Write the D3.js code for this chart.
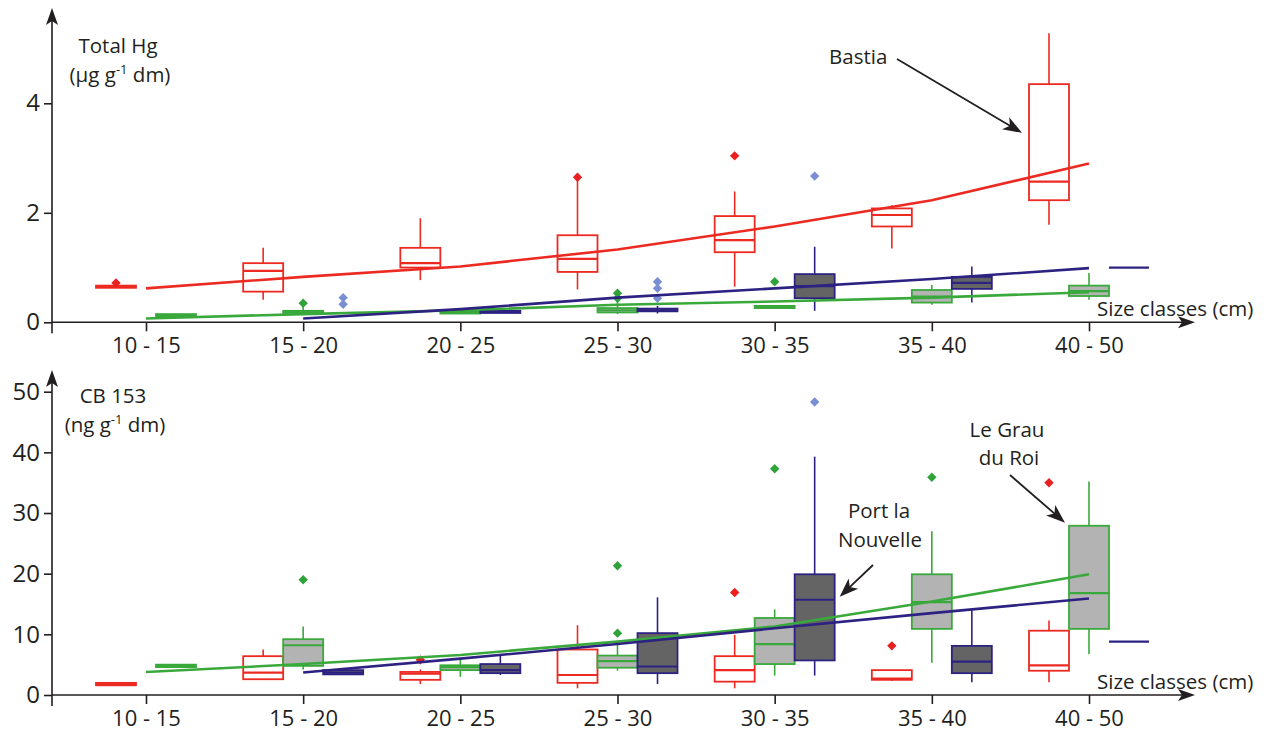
<!DOCTYPE html>
<html>
<head>
<meta charset="utf-8">
<script src="https://cdn.jsdelivr.net/npm/d3@7"></script>
<style>
  body { margin: 0; background: #fff; }
  svg { font-family: "Open Sans", sans-serif; }
  text { fill: #231f20; }
</style>
</head>
<body>
<svg width="1274" height="736"></svg>
<script>
const categories = ["10 - 15", "15 - 20", "20 - 25", "25 - 30", "30 - 35", "35 - 40", "40 - 50"];
const sites = ["Bastia", "Le Grau du Roi", "Port la Nouvelle"];

// box stats: [whisker low, q1, median, q3, whisker high], one per size class
const hgBastia = [[0.63, 0.63, 0.65, 0.67, 0.67], [0.41, 0.56, 0.94, 1.08, 1.36], [0.77, 1.00, 1.08, 1.36, 1.90],
  [0.60, 0.92, 1.16, 1.59, 2.60], [0.65, 1.28, 1.50, 1.94, 2.39], [1.35, 1.75, 1.96, 2.08, 2.14], [1.78, 2.23, 2.57, 4.35, 5.28]];
const hgGrau = [[0.11, 0.11, 0.13, 0.15, 0.15], [0.16, 0.17, 0.19, 0.21, 0.30], [0.15, 0.16, 0.18, 0.20, 0.20],
  [0.15, 0.18, 0.22, 0.26, 0.40], [0.26, 0.26, 0.28, 0.30, 0.30], [0.32, 0.36, 0.47, 0.59, 0.68], [0.41, 0.48, 0.57, 0.67, 0.90]];
const hgPort = [null, null, [0.17, 0.17, 0.19, 0.21, 0.21],
  [0.16, 0.20, 0.22, 0.25, 0.30], [0.21, 0.44, 0.66, 0.88, 1.38], [0.36, 0.61, 0.72, 0.83, 1.02], [1.00, 1.00, 1.00, 1.00, 1.00]];

const hgBastiaOut = [[0.72], [], [], [2.65], [3.04], [], []];
const hgGrauOut = [[], [0.35], [], [0.44, 0.53], [0.74], [], []];
const hgPortOut = [[], [0.33, 0.45], [], [0.44, 0.62, 0.74], [2.67], [], []];

const hgTrendBastia = [0.62, 0.83, 1.02, 1.33, 1.75, 2.23, 2.90];
const hgTrendGrau = [0.07, 0.15, 0.22, 0.32, 0.38, 0.45, 0.55];
const hgTrendPort = [null, 0.07, 0.24, 0.45, 0.62, 0.79, 0.99];

const cbBastia = [[1.6, 1.6, 1.8, 2.0, 2.0], [2.6, 2.6, 3.7, 6.4, 7.5], [1.8, 2.5, 3.5, 3.8, 4.2],
  [1.1, 2.0, 3.3, 7.5, 11.5], [1.1, 2.2, 4.1, 6.4, 9.9], [2.3, 2.5, 2.7, 4.1, 4.1], [2.1, 4.0, 4.9, 10.6, 12.3]];
const cbGrau = [[4.6, 4.6, 4.8, 5.0, 5.0], [4.2, 4.8, 8.2, 9.2, 11.3], [3.0, 4.1, 4.6, 4.9, 5.9],
  [4.0, 4.5, 5.6, 6.5, 8.5], [3.2, 5.1, 8.4, 12.7, 14.1], [5.3, 10.9, 15.3, 19.9, 27.0], [6.7, 10.9, 16.8, 27.9, 35.2]];
const cbPort = [null, [3.4, 3.4, 3.7, 4.1, 4.1], [3.3, 3.6, 4.1, 5.1, 6.6],
  [1.8, 3.6, 4.7, 10.2, 16.1], [3.2, 5.7, 15.7, 19.9, 39.3], [2.1, 3.6, 5.5, 8.1, 14.0], [8.8, 8.8, 8.8, 8.8, 8.8]];

const cbBastiaOut = [[], [], [5.8], [], [16.9], [8.1], [35.0]];
const cbGrauOut = [[], [19.0], [], [10.2, 21.3], [37.3], [35.9], []];
const cbPortOut = [[], [], [], [], [48.3], [], []];

const cbTrendGrau = [3.8, 5.1, 6.6, 8.8, 11.3, 15.4, 19.9];
const cbTrendPort = [null, 3.7, 6.0, 8.4, 11.0, 13.5, 15.9];

const hgTicks = [0, 2, 4];
const cbTicks = [0, 10, 20, 30, 40, 50];

// styles
const stroke = { "Bastia": "#ec2a22", "Le Grau du Roi": "#3aa93c", "Port la Nouvelle": "#2d2282" };
const fill = { "Bastia": "#fff", "Le Grau du Roi": "#b3b3b3", "Port la Nouvelle": "#646464" };
const outColor = { "Bastia": "#e8201f", "Le Grau du Roi": "#2fa33a", "Port la Nouvelle": "#7a8fd3" };
const ink = "#231f20";

let svg = d3.select("svg");

let x = d3.scalePoint().domain(categories).range([146, 1089]);
let yHg = d3.scaleLinear().domain([0, 4]).range([322.3, 103.3]);
let yCb = d3.scaleLinear().domain([0, 50]).range([695, 391.7]);

let panels = [
  { y: yHg, ticks: hgTicks, top: 8,
    boxes: [hgBastia, hgGrau, hgPort], outs: [hgBastiaOut, hgGrauOut, hgPortOut],
    trends: [hgTrendBastia, hgTrendGrau, hgTrendPort],
    title: ["Total Hg", "(µg g", " dm)"], titleX: 118, titleY: 53 },
  { y: yCb, ticks: cbTicks, top: 370,
    boxes: [cbBastia, cbGrau, cbPort], outs: [cbBastiaOut, cbGrauOut, cbPortOut],
    trends: [null, cbTrendGrau, cbTrendPort],
    title: ["CB 153", "(ng g", " dm)"], titleX: 113, titleY: 403 }
];

// sites present in a size class get a slot around the tick
function slotScale(i) {
  let present = sites.filter((s, k) => panels.some(p => p.boxes[k][i] || p.outs[k][i].length));
  return d3.scaleBand().domain(present).range([-60, 60]);
}
let slots = categories.map((c, i) => slotScale(i));
function cx(i, site) {
  let s = slots[i];
  return x(categories[i]) + s(site) + s.bandwidth() / 2;
}

const boxW = 40;
const arrowUp = "M0,0 L-6,17 L0,13 L6,17 Z";
const arrowRight = "M0,0 L-17,-6 L-13,0 L-17,6 Z";

panels.forEach(function(p) {
  let y = p.y, y0 = y(0);
  let g = svg.append("g");

  // boxes
  sites.forEach(function(site, k) {
    p.boxes[k].forEach(function(b, i) {
      if (!b) return;
      let c = cx(i, site);
      if (b[4] > b[0]) {
        g.append("line")
          .attr("x1", c).attr("x2", c)
          .attr("y1", y(b[0])).attr("y2", y(b[4]))
          .attr("stroke", stroke[site]).attr("stroke-width", 1.6);
      }
      if (b[3] > b[1]) {
        g.append("rect")
          .attr("x", c - boxW / 2).attr("width", boxW)
          .attr("y", y(b[3])).attr("height", y(b[1]) - y(b[3]))
          .attr("fill", fill[site])
          .attr("stroke", stroke[site]).attr("stroke-width", 1.8);
      }
      g.append("line")
        .attr("x1", c - boxW / 2).attr("x2", c + boxW / 2)
        .attr("y1", y(b[2])).attr("y2", y(b[2]))
        .attr("stroke", stroke[site]).attr("stroke-width", 2.2);
    });
    // outliers
    p.outs[k].forEach(function(list, i) {
      list.forEach(function(v) {
        g.append("path")
          .attr("d", d3.symbol(d3.symbolSquare, 44)())
          .attr("transform", "translate(" + cx(i, site) + "," + y(v) + ") rotate(45)")
          .attr("fill", outColor[site]);
      });
    });
  });

  // trend lines
  let line = d3.line()
    .defined(d => d != null)
    .x((d, i) => x(categories[i]))
    .y(d => y(d));
  sites.forEach(function(site, k) {
    if (!p.trends[k]) return;
    g.append("path")
      .datum(p.trends[k])
      .attr("fill", "none")
      .attr("stroke", stroke[site])
      .attr("stroke-width", 2.6)
      .attr("d", line);
  });

  // y axis
  let yAxis = d3.axisLeft(y).tickValues(p.ticks).tickSize(8).tickPadding(4).tickFormat(d3.format("d"));
  let ya = svg.append("g").attr("transform", "translate(52,0)").call(yAxis);
  ya.select(".domain").remove();
  ya.selectAll(".tick line").attr("stroke", ink).attr("stroke-width", 1.6);
  ya.selectAll(".tick text").style("font-family", "Open Sans").style("font-size", "24px").attr("fill", ink);
  svg.append("line")
    .attr("x1", 52).attr("x2", 52)
    .attr("y1", p.top + 12).attr("y2", y0 + 11)
    .attr("stroke", ink).attr("stroke-width", 1.6);
  svg.append("path").attr("d", arrowUp).attr("transform", "translate(52," + p.top + ")").attr("fill", ink);

  // x axis
  let xAxis = d3.axisBottom(x).tickSize(9).tickSizeOuter(0).tickPadding(6);
  let xa = svg.append("g").attr("transform", "translate(0," + y0 + ")").call(xAxis);
  xa.select(".domain").remove();
  xa.selectAll(".tick line").attr("stroke", ink).attr("stroke-width", 1.6);
  xa.selectAll(".tick text").style("font-family", "Open Sans").style("font-size", "22px").attr("fill", ink);
  svg.append("line")
    .attr("x1", 52).attr("x2", 1182)
    .attr("y1", y0).attr("y2", y0)
    .attr("stroke", ink).attr("stroke-width", 1.6);
  svg.append("path").attr("d", arrowRight).attr("transform", "translate(1195," + y0 + ")").attr("fill", ink);

  svg.append("text")
    .attr("x", 1097).attr("y", y0 - 6)
    .style("font-size", "20.5px")
    .text("Size classes (cm)");

  // y title
  svg.append("text")
    .attr("x", p.titleX).attr("y", p.titleY)
    .attr("text-anchor", "middle")
    .style("font-size", "20.5px")
    .text(p.title[0]);
  let t2 = svg.append("text")
    .attr("x", p.titleX + 2).attr("y", p.titleY + 29)
    .attr("text-anchor", "middle")
    .style("font-size", "20.5px");
  t2.append("tspan").text(p.title[1]);
  t2.append("tspan").attr("dy", -8).style("font-size", "13px").text("-1");
  t2.append("tspan").attr("dy", 8).text(p.title[2]);
});

// annotations
function arrow(x1, y1, x2, y2) {
  let a = Math.atan2(y2 - y1, x2 - x1) * 180 / Math.PI;
  let len = Math.hypot(x2 - x1, y2 - y1);
  let g = svg.append("g").attr("transform", "translate(" + x1 + "," + y1 + ") rotate(" + a + ")");
  g.append("line").attr("x1", 0).attr("x2", len - 12).attr("y1", 0).attr("y2", 0)
    .attr("stroke", ink).attr("stroke-width", 1.8);
  g.append("path").attr("d", "M" + len + ",0 L" + (len - 19) + ",-7 L" + (len - 14) + ",0 L" + (len - 19) + ",7 Z")
    .attr("fill", ink);
}

svg.append("text").attr("x", 829).attr("y", 64).style("font-size", "20.5px").text("Bastia");
arrow(897, 59, cx(6, "Bastia") - boxW / 2 - 7, yHg(3.46));

let pln = svg.append("text").attr("text-anchor", "middle").style("font-size", "20.5px");
pln.append("tspan").attr("x", 879).attr("y", 518).text("Port la");
pln.append("tspan").attr("x", 880).attr("y", 547).text("Nouvelle");
arrow(873, 565, cx(4, "Port la Nouvelle") + boxW / 2 + 5, yCb(16.2));

let grau = svg.append("text").attr("text-anchor", "middle").style("font-size", "20.5px");
grau.append("tspan").attr("x", 1007).attr("y", 437).text("Le Grau");
grau.append("tspan").attr("x", 1009).attr("y", 465).text("du Roi");
arrow(1010, 475, cx(6, "Le Grau du Roi") - boxW / 2 - 4, yCb(28.4));
</script>
</body>
</html>
